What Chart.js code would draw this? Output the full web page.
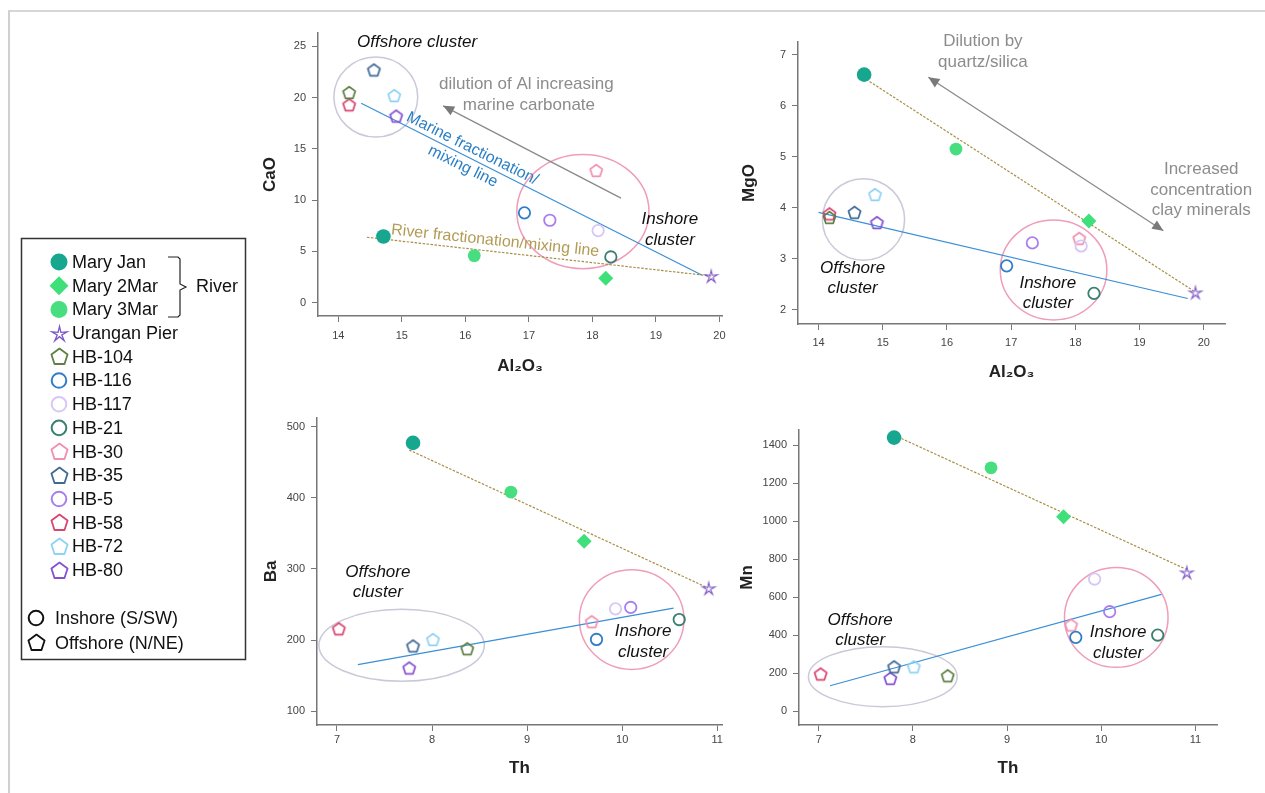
<!DOCTYPE html>
<html lang="en">
<head>
<meta charset="UTF-8" />
<title>Hervey Bay sediment geochemistry</title>
<script src="https://cdn.jsdelivr.net/npm/chart.js"></script>
<style>
  body { margin: 0; background: #fff; width: 1265px; height: 793px; overflow: hidden; position: relative; }
  .frame { position: absolute; left: 8px; top: 10px; right: 0; bottom: 0; border-top: 2px solid #d6d6d6; border-left: 2px solid #d0d0d0; }
  canvas { position: absolute; }
</style>
</head>
<body>
<div class="frame"></div>
<canvas id="legendBox"></canvas>
<canvas id="caoChart"></canvas>
<canvas id="mgoChart"></canvas>
<canvas id="baChart"></canvas>
<canvas id="mnChart"></canvas>

<script>
// ---- data ----
const sampleNames = ['Mary Jan', 'Mary 2Mar', 'Mary 3Mar', 'Urangan Pier', 'HB-104', 'HB-116', 'HB-117',
                     'HB-21', 'HB-30', 'HB-35', 'HB-5', 'HB-58', 'HB-72', 'HB-80'];
const al2o3 = [14.71, 18.21, 16.14, 19.87, 14.17, 16.93, 18.09, 18.29, 18.06, 14.56, 17.33, 14.17, 14.88, 14.91];
const cao   = [6.45, 2.38, 4.59, 2.6, 20.5, 8.76, 7.03, 4.46, 12.9, 22.7, 8.04, 19.3, 20.2, 18.2];
const mgo   = [6.61, 3.74, 5.15, 2.34, 3.81, 2.86, 3.25, 2.32, 3.40, 3.91, 3.31, 3.88, 4.26, 3.71];
const th    = [7.80, 9.60, 8.83, 10.91, 8.37, 9.73, 9.93, 10.60, 9.68, 7.80, 10.09, 7.02, 8.01, 7.76];
const ba    = [477, 339, 408, 273, 188, 201, 244, 229, 226, 192, 246, 216, 201, 161];
const mn    = [1440, 1023, 1281, 730, 186, 388, 695, 400, 453, 233, 523, 195, 233, 172];

// fractionation / mixing lines (end points)
const caoRiverLine  = [[14.45, 6.38], [19.87, 2.6]];
const caoMarineLine = [[14.36, 19.45], [19.72, 2.7]];
const mgoRiverLine  = [[14.69, 6.56], [19.84, 2.37]];
const mgoMarineLine = [[14.0, 3.91], [19.75, 2.22]];
const baRiverLine   = [[7.76, 467], [10.90, 273.5]];
const baMarineLine  = [[7.22, 165.6], [10.54, 244.9]];
const mnRiverLine   = [[7.80, 1453], [10.90, 747]];
const mnMarineLine  = [[7.12, 133], [10.64, 614]];

// tick labels
const al2o3Ticks = [14, 15, 16, 17, 18, 19, 20];
const thTicks    = [7, 8, 9, 10, 11];
const caoTicks   = [0, 5, 10, 15, 20, 25];
const mgoTicks   = [2, 3, 4, 5, 6, 7];
const baTicks    = [100, 200, 300, 400, 500];
const mnTicks    = [0, 200, 400, 600, 800, 1000, 1200, 1400];

// ---- marker styles ----
const markerShape = ['dot', 'diamond', 'dot', 'star', 'pent', 'ring', 'ring', 'ring', 'pent', 'pent', 'ring', 'pent', 'pent', 'pent'];
const markerColor = ['#17a68e', '#3fe07a', '#46de7e', '#7d55c7', '#5f7f45', '#2f7ec9', '#d8c6f5',
                     '#3a8070', '#f28fb0', '#3f6a94', '#a97ff0', '#d94470', '#8fd2f5', '#8550d3'];

const FONT = '"Liberation Sans", Arial, sans-serif';
Chart.defaults.font.family = FONT;

function pentagonImage(color, r, lw) {
  const size = Math.ceil(2 * r + 2 * lw + 2);
  const cv = document.createElement('canvas');
  cv.width = cv.height = size;
  const g = cv.getContext('2d');
  const c = size / 2;
  g.beginPath();
  for (let k = 0; k < 5; k++) {
    const a = -Math.PI / 2 + k * 2 * Math.PI / 5;
    const px = c + r * Math.cos(a), py = c + 0.6 + r * Math.sin(a);
    k ? g.lineTo(px, py) : g.moveTo(px, py);
  }
  g.closePath();
  g.strokeStyle = color; g.lineWidth = lw; g.lineJoin = 'round';
  g.stroke();
  return cv;
}

function starImage(color, r, lw) {
  const size = Math.ceil(2 * r + 2 * lw + 2);
  const cv = document.createElement('canvas');
  cv.width = cv.height = size;
  const g = cv.getContext('2d');
  const c = size / 2;
  g.beginPath();
  for (let k = 0; k < 10; k++) {
    const a = -Math.PI / 2 + k * Math.PI / 5;
    const rr = k % 2 ? r * 0.3 : r;
    const px = c + rr * Math.cos(a), py = c + 0.8 + rr * Math.sin(a);
    k ? g.lineTo(px, py) : g.moveTo(px, py);
  }
  g.closePath();
  g.strokeStyle = color; g.lineWidth = lw; g.lineJoin = 'miter';
  g.stroke();
  return cv;
}

function pointOpts(i) {
  const c = markerColor[i];
  switch (markerShape[i]) {
    case 'dot':
      return { pointStyle: 'circle', pointRadius: i === 0 ? 7.3 : 6.4, pointBackgroundColor: c, pointBorderColor: c, pointBorderWidth: 0 };
    case 'diamond':
      return { pointStyle: 'rectRot', pointRadius: 7.5, pointBackgroundColor: c, pointBorderColor: c, pointBorderWidth: 0 };
    case 'ring':
      return { pointStyle: 'circle', pointRadius: 5.7, pointBackgroundColor: 'rgba(0,0,0,0)', pointBorderColor: c, pointBorderWidth: 1.8 };
    case 'pent':
      return { pointStyle: pentagonImage(c, 6.4, 1.7), pointRadius: 6 };
    default:
      return { pointStyle: starImage(c, 6.5, 1.1), pointRadius: 6 };
  }
}

function lineDataset(pts, color, dash) {
  return {
    label: '', data: pts.map(p => ({ x: p[0], y: p[1] })),
    showLine: true, pointRadius: 0, borderColor: color, borderWidth: 1.2,
    borderDash: dash, fill: false, order: 5
  };
}

// annotations (ellipses, arrows, texts) positioned in data units
function notesPlugin(notes) {
  return {
    id: 'notes',
    beforeDatasetsDraw(chart) {
      const { ctx, scales: { x, y } } = chart;
      ctx.save();
      (notes.ellipses || []).forEach(e => {
        const px = x.getPixelForValue(e.cx), py = y.getPixelForValue(e.cy);
        const rx = Math.abs(x.getPixelForValue(e.cx + e.rx) - px);
        const ry = Math.abs(y.getPixelForValue(e.cy + e.ry) - py);
        ctx.beginPath();
        ctx.ellipse(px, py, rx, ry, 0, 0, Math.PI * 2);
        ctx.strokeStyle = e.color; ctx.lineWidth = 1.5;
        ctx.stroke();
      });
      (notes.arrows || []).forEach(a => {
        const x0 = x.getPixelForValue(a.from[0]), y0 = y.getPixelForValue(a.from[1]);
        const x1 = x.getPixelForValue(a.to[0]), y1 = y.getPixelForValue(a.to[1]);
        ctx.strokeStyle = '#8a8a8a'; ctx.fillStyle = '#7a7a7a'; ctx.lineWidth = 1.3;
        ctx.beginPath(); ctx.moveTo(x0, y0); ctx.lineTo(x1, y1); ctx.stroke();
        const head = (hx, hy, ang) => {
          ctx.beginPath();
          ctx.moveTo(hx, hy);
          ctx.lineTo(hx - 11 * Math.cos(ang) + 5 * Math.sin(ang), hy - 11 * Math.sin(ang) - 5 * Math.cos(ang));
          ctx.lineTo(hx - 11 * Math.cos(ang) - 5 * Math.sin(ang), hy - 11 * Math.sin(ang) + 5 * Math.cos(ang));
          ctx.closePath(); ctx.fill();
        };
        const ang = Math.atan2(y1 - y0, x1 - x0);
        head(x1, y1, ang);
        if (a.both) head(x0, y0, ang + Math.PI);
      });
      ctx.restore();
    },
    afterDraw(chart) {
      const { ctx, scales: { x, y } } = chart;
      ctx.save();
      ctx.textAlign = 'center'; ctx.textBaseline = 'middle';
      (notes.texts || []).forEach(t => {
        ctx.save();
        ctx.translate(x.getPixelForValue(t.x), y.getPixelForValue(t.y));
        ctx.rotate((t.angle || 0) * Math.PI / 180);
        ctx.font = t.font; ctx.fillStyle = t.color;
        ctx.fillText(t.text, 0, 0);
        ctx.restore();
      });
      ctx.restore();
    }
  };
}

function makePanel(id, cfg) {
  const cv = document.getElementById(id);
  const [cx, cy, cw, ch] = cfg.canvas;
  const [aL, aT, aR, aB] = cfg.area;
  cv.width = cw; cv.height = ch;
  cv.style.left = cx + 'px'; cv.style.top = cy + 'px';

  const datasets = sampleNames.map((name, i) => Object.assign({
    label: name, data: [{ x: cfg.xs[i], y: cfg.ys[i] }], order: 0
  }, pointOpts(i)));
  datasets.push(lineDataset(cfg.river, '#a88f45', [2.5, 1.5]));
  datasets.push(lineDataset(cfg.marine, '#3a8fd6', []));

  const titleFont = { size: 17, weight: 'bold', family: FONT };
  const tickFont = { size: 11, family: FONT };
  const axisCommon = {
    type: 'linear',
    grid: { drawOnChartArea: false, drawTicks: true, tickLength: 6, color: '#777', lineWidth: 1 },
    border: { display: true, color: '#777', width: 1.5 }
  };

  new Chart(cv, {
    type: 'scatter',
    data: { datasets },
    options: {
      responsive: false, animation: false, devicePixelRatio: 1,
      layout: { padding: { left: 0, top: aT - cy, right: cx + cw - aR, bottom: 0 } },
      plugins: { legend: { display: false }, tooltip: { enabled: false } },
      scales: {
        x: Object.assign({}, axisCommon, {
          min: cfg.xRange[0], max: cfg.xRange[1],
          afterBuildTicks: s => { s.ticks = cfg.xTicks.map(v => ({ value: v })); },
          afterFit: s => { s.height = cy + ch - aB; },
          ticks: { font: tickFont, color: '#444', padding: cfg.xTickPad, maxRotation: 0, callback: v => String(v) },
          title: { display: true, text: cfg.xTitle, font: titleFont, color: '#222',
                   padding: { top: 0, bottom: cy + ch - cfg.xTitleY - 10.2 } }
        }),
        y: Object.assign({}, axisCommon, {
          min: cfg.yRange[0], max: cfg.yRange[1],
          afterBuildTicks: s => { s.ticks = cfg.yTicks.map(v => ({ value: v })); },
          afterFit: s => { s.width = aL - cx; },
          ticks: { font: tickFont, color: '#444', padding: 6, callback: v => String(v) },
          title: { display: true, text: cfg.yTitle, font: titleFont, color: '#222',
                   padding: { top: cfg.yTitleX - cx - 10.2, bottom: 0 } }
        })
      }
    },
    plugins: [notesPlugin(cfg.notes)]
  });
}

const plainFont = '17px ' + FONT;
const clusterFont = 'italic 17px ' + FONT;
const lineFont = '16px ' + FONT;
const grayCol = '#8c8c8c';
const offshoreRing = '#c9c9d9';
const inshoreRing = '#ef9dbb';

makePanel('caoChart', {
  canvas: [250, 15, 495, 380], area: [318, 33, 722, 316],
  xs: al2o3, ys: cao, river: caoRiverLine, marine: caoMarineLine,
  xRange: [13.68, 20.04], yRange: [-1.3, 26.3], xTicks: al2o3Ticks, yTicks: caoTicks,
  xTitle: 'Al\u2082O\u2083', yTitle: 'CaO', xTitleY: 366, yTitleX: 270, xTickPad: 7,
  notes: {
    ellipses: [
      { cx: 14.59, cy: 20.05, rx: 0.66, ry: 3.9, color: offshoreRing },
      { cx: 17.85, cy: 8.89, rx: 1.04, ry: 5.57, color: inshoreRing }
    ],
    arrows: [{ from: [18.45, 10.2], to: [15.65, 19.2] }],
    texts: [
      { text: 'Offshore cluster', x: 15.24, y: 25.4, font: clusterFont, color: '#111' },
      { text: 'dilution of Al increasing', x: 16.96, y: 21.26, font: plainFont, color: grayCol },
      { text: 'marine carbonate', x: 17.0, y: 19.2, font: plainFont, color: grayCol },
      { text: 'Marine fractionation/', x: 16.11, y: 15.01, font: lineFont, color: '#2a7fc4', angle: 26.5 },
      { text: 'mixing line', x: 15.96, y: 13.28, font: lineFont, color: '#2a7fc4', angle: 26.5 },
      { text: 'River fractionation/mixing line', x: 16.47, y: 6.03, font: lineFont, color: '#b39b55', angle: 6 },
      { text: 'Inshore', x: 19.22, y: 8.14, font: clusterFont, color: '#111' },
      { text: 'cluster', x: 19.22, y: 6.12, font: clusterFont, color: '#111' }
    ]
  }
});

makePanel('mgoChart', {
  canvas: [730, 15, 525, 385], area: [798, 42, 1225, 324],
  xs: al2o3, ys: mgo, river: mgoRiverLine, marine: mgoMarineLine,
  xRange: [13.68, 20.33], yRange: [1.72, 7.25], xTicks: al2o3Ticks, yTicks: mgoTicks,
  xTitle: 'Al\u2082O\u2083', yTitle: 'MgO', xTitleY: 372, yTitleX: 749, xTickPad: 6,
  notes: {
    ellipses: [
      { cx: 14.70, cy: 3.77, rx: 0.64, ry: 0.80, color: offshoreRing },
      { cx: 17.66, cy: 2.78, rx: 0.83, ry: 0.98, color: inshoreRing }
    ],
    arrows: [{ from: [19.37, 3.55], to: [15.71, 6.56], both: true }],
    texts: [
      { text: 'Dilution by', x: 16.56, y: 7.26, font: plainFont, color: grayCol },
      { text: 'quartz/silica', x: 16.56, y: 6.85, font: plainFont, color: grayCol },
      { text: 'Increased', x: 19.96, y: 4.75, font: plainFont, color: grayCol },
      { text: 'concentration', x: 19.96, y: 4.34, font: plainFont, color: grayCol },
      { text: 'clay minerals', x: 19.96, y: 3.95, font: plainFont, color: grayCol },
      { text: 'Offshore', x: 14.53, y: 2.82, font: clusterFont, color: '#111' },
      { text: 'cluster', x: 14.53, y: 2.43, font: clusterFont, color: '#111' },
      { text: 'Inshore', x: 17.57, y: 2.52, font: clusterFont, color: '#111' },
      { text: 'cluster', x: 17.57, y: 2.13, font: clusterFont, color: '#111' }
    ]
  }
});

makePanel('baChart', {
  canvas: [250, 400, 495, 390], area: [317, 418, 722, 725],
  xs: th, ys: ba, river: baRiverLine, marine: baMarineLine,
  xRange: [6.79, 11.05], yRange: [80.9, 512], xTicks: thTicks, yTicks: baTicks,
  xTitle: 'Th', yTitle: 'Ba', xTitleY: 768, yTitleX: 271, xTickPad: 2,
  notes: {
    ellipses: [
      { cx: 7.68, cy: 192.8, rx: 0.87, ry: 50.6, color: offshoreRing },
      { cx: 10.10, cy: 229, rx: 0.55, ry: 70, color: inshoreRing }
    ],
    texts: [
      { text: 'Offshore', x: 7.43, y: 295, font: clusterFont, color: '#111' },
      { text: 'cluster', x: 7.43, y: 267, font: clusterFont, color: '#111' },
      { text: 'Inshore', x: 10.22, y: 212, font: clusterFont, color: '#111' },
      { text: 'cluster', x: 10.22, y: 182.6, font: clusterFont, color: '#111' }
    ]
  }
});

makePanel('mnChart', {
  canvas: [730, 410, 525, 380], area: [799, 430, 1217, 725],
  xs: th, ys: mn, river: mnRiverLine, marine: mnMarineLine,
  xRange: [6.79, 11.23], yRange: [-73.7, 1480], xTicks: thTicks, yTicks: mnTicks,
  xTitle: 'Th', yTitle: 'Mn', xTitleY: 768, yTitleX: 747, xTickPad: 2,
  notes: {
    ellipses: [
      { cx: 7.68, cy: 181, rx: 0.79, ry: 158, color: offshoreRing },
      { cx: 10.16, cy: 493, rx: 0.55, ry: 263, color: inshoreRing }
    ],
    texts: [
      { text: 'Offshore', x: 7.44, y: 479, font: clusterFont, color: '#111' },
      { text: 'cluster', x: 7.44, y: 370, font: clusterFont, color: '#111' },
      { text: 'Inshore', x: 10.18, y: 416, font: clusterFont, color: '#111' },
      { text: 'cluster', x: 10.18, y: 305, font: clusterFont, color: '#111' }
    ]
  }
});

// ---- legend box ----
function drawLegendMarker(ctx, shape, color, x, y) {
  ctx.save();
  if (shape === 'dot') {
    ctx.beginPath(); ctx.arc(x, y, 8.5, 0, Math.PI * 2); ctx.fillStyle = color; ctx.fill();
  } else if (shape === 'diamond') {
    ctx.beginPath(); ctx.moveTo(x, y - 9.5); ctx.lineTo(x + 9.5, y); ctx.lineTo(x, y + 9.5); ctx.lineTo(x - 9.5, y);
    ctx.closePath(); ctx.fillStyle = color; ctx.fill();
  } else if (shape === 'ring') {
    ctx.beginPath(); ctx.arc(x, y, 7.3, 0, Math.PI * 2); ctx.strokeStyle = color; ctx.lineWidth = 2; ctx.stroke();
  } else {
    const img = shape === 'pent' ? pentagonImage(color, 8.5, 1.8) : starImage(color, 8, 1.3);
    ctx.drawImage(img, Math.round(x - img.width / 2), Math.round(y - img.height / 2));
  }
  ctx.restore();
}

const legendCanvas = document.getElementById('legendBox');
legendCanvas.width = 227; legendCanvas.height = 424;
legendCanvas.style.left = '20px'; legendCanvas.style.top = '237px';

new Chart(legendCanvas, {
  type: 'scatter',
  data: { datasets: [] },
  options: {
    responsive: false, animation: false, devicePixelRatio: 1,
    plugins: { legend: { display: false }, tooltip: { enabled: false } },
    scales: { x: { display: false }, y: { display: false } }
  },
  plugins: [{
    id: 'legendDraw',
    afterDraw(chart) {
      const ctx = chart.ctx;
      ctx.save();
      ctx.strokeStyle = '#333'; ctx.lineWidth = 1.5;
      ctx.strokeRect(1.5, 1.5, chart.width - 3, chart.height - 3);
      ctx.font = '18px ' + FONT; ctx.textBaseline = 'middle'; ctx.fillStyle = '#111';
      sampleNames.forEach((name, i) => {
        const y = 25 + i * 23.7;
        drawLegendMarker(ctx, markerShape[i], markerColor[i], 39, y);
        ctx.fillStyle = '#111';
        ctx.fillText(name, 52, y + 1);
      });
      // river bracket
      ctx.strokeStyle = '#222'; ctx.lineWidth = 1.2;
      ctx.beginPath();
      ctx.moveTo(148, 20); ctx.lineTo(158, 20); ctx.lineTo(160, 22); ctx.lineTo(160, 47);
      ctx.lineTo(166, 50); ctx.lineTo(160, 53); ctx.lineTo(160, 78); ctx.lineTo(158, 80); ctx.lineTo(148, 80);
      ctx.stroke();
      ctx.fillStyle = '#111';
      ctx.fillText('River', 176, 50);
      // inshore / offshore keys
      drawLegendMarker(ctx, 'ring', '#111', 16, 381);
      ctx.fillStyle = '#111'; ctx.fillText('Inshore (S/SW)', 35, 382);
      drawLegendMarker(ctx, 'pent', '#111', 16, 405);
      ctx.fillStyle = '#111'; ctx.fillText('Offshore (N/NE)', 35, 407);
      ctx.restore();
    }
  }]
});
</script>
</body>
</html>
